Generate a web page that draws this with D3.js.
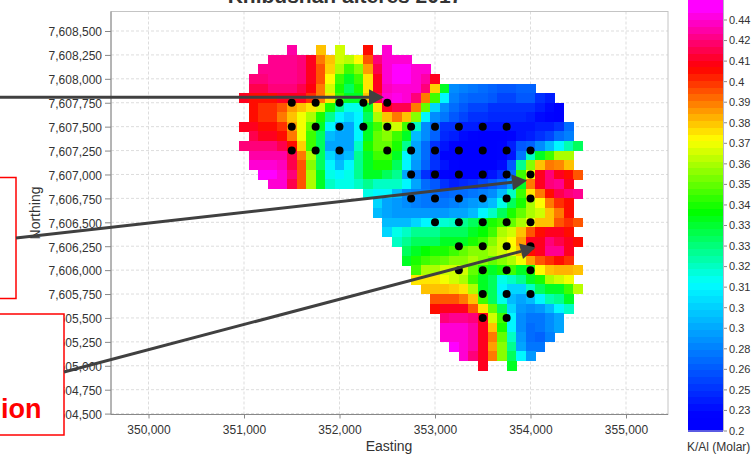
<!DOCTYPE html>
<html><head><meta charset="utf-8">
<script src="https://cdn.jsdelivr.net/npm/d3@7"></script>
<style>
html,body{margin:0;padding:0;background:#fff;overflow:hidden}
text{font-family:"Liberation Sans",Arial,sans-serif}
</style></head><body>
<svg id="c" width="756" height="454"></svg>
<script>
const eastTicks=[350000,351000,352000,353000,354000,355000];
const northTicks=[7604500,7604750,7605000,7605250,7605500,7605750,7606000,7606250,7606500,7606750,7607000,7607250,7607500,7607750,7608000,7608250,7608500];
const legendLabels=["0.44","0.42","0.41","0.4","0.39","0.38","0.37","0.36","0.35","0.34","0.33","0.33","0.32","0.31","0.3","0.3","0.28","0.26","0.25","0.23","0.2"];
const legendValues=[.44,.42,.41,.40,.39,.38,.37,.36,.35,.34,.334,.327,.32,.31,.304,.296,.28,.26,.25,.23,.2];
const gridEastStart=351000, gridNorthStart=7608300, gridStep=100;
const rowFirstCell=[5,3,2,1,1,0,1,1,0,1,0,1,1,2,3,13,14,14,15,15,16,17,17,18,18,19,20,20,21,21,21,22,23,25];
const kAlRows=[
[430,null,null,380,null,365,null,null,405,null,440],
[425,425,425,420,410,390,380,365,362,372,395,420,440,440,440],
[425,425,425,425,420,410,395,378,360,345,355,385,415,440,450,450,440,440],
[420,420,425,425,425,420,410,395,372,345,335,345,375,410,440,450,450,440,430,410],
[415,415,420,420,420,415,408,390,365,340,330,340,375,410,435,440,440,440,420,378,335,285,280,275,270,265,260,260,265,265],
[410,405,405,405,410,410,410,400,390,375,345,335,335,380,415,440,445,440,420,390,345,310,280,270,265,265,260,255,255,260,260,250,240],
[405,400,400,395,385,380,375,365,340,325,315,315,335,375,410,415,415,390,350,305,285,270,260,255,255,250,250,250,250,250,240,230,220],
[405,400,400,390,380,370,360,340,325,310,305,310,330,360,380,390,380,355,310,285,275,260,255,250,250,245,245,245,245,240,230,225,220],
[410,410,405,405,400,385,370,350,335,310,300,295,310,335,345,360,365,345,320,285,270,250,250,240,240,235,235,235,235,235,235,240,240,250,270],
[415,410,410,405,390,370,345,330,300,295,295,310,335,350,355,345,335,300,285,265,245,240,230,225,220,220,220,225,235,240,250,255,270,280],
[420,420,420,420,415,405,378,345,330,295,295,295,320,340,350,350,340,325,295,270,250,235,225,215,210,210,215,225,240,260,265,285,300,310,322,330],
[430,430,430,430,415,390,360,330,305,295,300,325,335,345,345,335,310,295,270,250,225,225,220,215,215,220,225,235,275,320,335,345,360,360],
[440,440,440,435,415,395,355,330,310,300,310,325,335,340,340,330,310,290,265,250,235,225,215,210,210,215,230,260,325,355,380,390,388,380],
[450,450,440,420,395,360,335,315,310,315,325,335,335,330,325,295,275,250,230,225,220,215,215,225,235,250,270,345,370,410,420,410,405,395],
[440,440,415,395,360,335,320,315,315,320,325,320,320,320,310,295,270,260,250,240,245,250,255,260,270,290,335,390,410,420,425,410],
[315,310,310,300,285,280,275,270,265,270,270,275,280,285,300,320,345,375,390,405,415,420,425],
[305,295,290,285,280,275,275,275,280,285,290,295,300,315,330,340,360,372,390,400,405],
[300,295,290,290,290,290,290,290,295,295,300,310,320,330,340,350,360,365,380,390,405],
[300,300,300,305,310,315,318,320,325,330,335,340,345,350,360,370,380,380,395,400,395],
[305,315,320,325,325,325,330,330,330,335,338,345,360,365,380,395,405,410,410,405],
[320,325,330,330,330,335,335,335,340,345,355,365,372,385,410,410,420,415,410,405],
[330,335,338,340,340,345,350,355,355,360,365,370,380,405,410,425,425,410],
[335,340,345,348,350,355,355,360,355,350,355,360,370,385,395,400,405,400],
[345,360,360,365,365,365,350,340,335,340,345,335,340,372,380,382,382,380],
[375,375,375,370,365,360,345,335,330,315,320,325,335,340,360,365,370],
[380,380,380,378,375,360,335,330,310,305,305,320,330,335,335,345,362],
[395,395,395,390,380,345,330,315,300,295,300,310,322,325,335],
[405,410,410,410,395,375,350,330,305,290,285,290,300,310,320],
[420,425,425,420,410,365,345,310,285,275,275,285,295],
[440,440,440,430,410,380,340,310,285,270,275,285,295],
[440,440,440,430,410,390,350,320,290,270,265,280],
[450,440,430,410,385,355,325,295,275,275],
[440,420,410,390,355,330,310,290],
[410,null,null,335]
];
const sampleNorth=[7607750,7607500,7607250,7607000,7606750,7606500,7606250,7606000,7605750,7605500];
const sampleEast=[
[351500,351750,352000,352250,352500],
[351500,351750,352000,352250,352500,352750,353000,353250,353500,353750],
[351500,351750,352000,352500,352750,353000,353250,353500,353750,354000],
[352750,353000,353250,353500,353750,354000],
[352750,353000,353250,353500,353750,354000],
[353000,353250,353500,353750,354000],
[353250,353500,353750,354000],
[353250,353500,353750,354000],
[353500,353750,354000],
[353500,353750]
];

const svg=d3.select("#c");
const x=d3.scaleLinear().domain([350000,355000]).range([148.5,626]);
const y=d3.scaleLinear().domain([7604500,7608500]).range([413.6,31]);
const L=111,R=668,T=11.5,B=414.5;
const fmt=d3.format(",");

// title (cropped by the top of the picture, as in the reference)
svg.append("text").attr("x",345).attr("y",2.5).attr("text-anchor","middle")
  .attr("font-size",21).attr("font-weight","bold").attr("fill","#333").text("Khibushan alteres 2017");

// grid
const g=svg.append("g");
g.selectAll(".gx").data(eastTicks).join("line").attr("x1",d=>x(d)).attr("x2",d=>x(d)).attr("y1",T).attr("y2",B)
 .attr("stroke","#ddd").attr("stroke-dasharray","3,2");
g.selectAll(".gy").data(northTicks).join("line").attr("y1",d=>y(d)).attr("y2",d=>y(d)).attr("x1",L).attr("x2",R)
 .attr("stroke","#ddd").attr("stroke-dasharray","3,2");

// frame
svg.append("rect").attr("x",L).attr("y",T).attr("width",R-L).attr("height",B-T).attr("fill","none").attr("stroke","#c4c4c4");

// colour scale
const barBottom=431;
const barPos=d3.scaleLinear().domain(legendValues.slice().reverse().concat([.46]))
  .range(legendValues.map((_,i)=>431-i*20.55).concat([0]));
const colorStops=d3.scaleLinear().domain([10,68,140,212,283,415]).clamp(true)
  .range(["#ff00ff","#ff0000","#ffff00","#00ff00","#00ffff","#0000ff"]).interpolate(d3.interpolateRgb);
const cellColor=v=>colorStops(barPos(v));

// cells
const cells=[];
kAlRows.forEach((row,r)=>row.forEach((v,i)=>{ if(v!=null) cells.push({e:gridEastStart+(rowFirstCell[r]+i)*gridStep,n:gridNorthStart-r*gridStep,v:v/1000}); }));
svg.append("g").attr("shape-rendering","crispEdges").selectAll("rect").data(cells).join("rect")
 .attr("x",d=>x(d.e-50)).attr("y",d=>y(d.n+50))
 .attr("width",d=>x(d.e+50)-x(d.e-50)+.4).attr("height",d=>y(d.n-50)-y(d.n+50)+.4)
 .attr("fill",d=>cellColor(d.v));

// sample points
const pts=sampleNorth.flatMap((n,i)=>sampleEast[i].map(e=>({e,n})));
svg.append("g").selectAll("circle").data(pts).join("circle")
 .attr("cx",d=>x(d.e)).attr("cy",d=>y(d.n)).attr("r",4).attr("fill","#000");

// axes
const axisCol="#888";
const ax=svg.append("g").attr("transform",`translate(0,${B})`).call(d3.axisBottom(x).tickValues(eastTicks).tickFormat(fmt).tickSize(4).tickPadding(7));
const ay=svg.append("g").attr("transform",`translate(${L},0)`).call(d3.axisLeft(y).tickValues(northTicks).tickFormat(fmt).tickSize(6).tickPadding(3));
[ax,ay].forEach(a=>{a.selectAll("path").attr("stroke",axisCol).attr("d",a===ax?`M${L},0H${R}`:`M0,${T}V${B}`);
 a.selectAll("line").attr("stroke",axisCol);
 a.selectAll("text").attr("fill","#333").attr("font-size",12).attr("font-family",'"Liberation Sans",Arial,sans-serif');});
ay.selectAll("text").attr("dy","0.4em");
svg.append("text").attr("x",389).attr("y",451).attr("text-anchor","middle").attr("font-size",14).attr("fill","#333").text("Easting");
svg.append("text").attr("transform","translate(40,213) rotate(-90)").attr("text-anchor","middle").attr("font-size",14).attr("fill","#333").text("Northing");

// colour bar
const bands=d3.range(0,64);
const bandH=barBottom/64;
svg.append("g").attr("shape-rendering","crispEdges").selectAll("rect").data(bands).join("rect")
 .attr("x",688).attr("width",35).attr("y",d=>d*bandH).attr("height",bandH+.5).attr("fill",d=>colorStops((d+.5)*bandH));
svg.append("path").attr("d",`M723.5,0V${barBottom}H688`).attr("fill","none").attr("stroke","#b4b4c8");
const ly=d3.scalePoint().domain(d3.range(legendLabels.length)).range([20,431]);
const lg=svg.append("g").selectAll("g").data(legendLabels).join("g").attr("transform",(d,i)=>`translate(724,${ly(i)})`);
lg.append("line").attr("x2",3).attr("stroke","#888");
lg.append("text").attr("x",5).attr("dy","0.35em").attr("font-size",11).attr("fill","#333").text(d=>d);
svg.append("text").attr("x",687).attr("y",451).attr("font-size",12).attr("fill","#333").text("K/Al (Molar)");

// annotation boxes
const boxStyle=s=>s.attr("fill","#fff").attr("stroke","#ff0000").attr("stroke-width",1.5);
svg.append("rect").attr("x",-5).attr("y",177.5).attr("width",21).attr("height",121).call(boxStyle);
svg.append("rect").attr("x",-5).attr("y",314).attr("width",69).attr("height",121).call(boxStyle);
svg.append("text").attr("x",41.5).attr("y",418).attr("text-anchor","end").attr("font-size",27).attr("font-weight","bold").attr("fill","#ff0000").text("ion");

// arrows
const arrows=[[-5,97.3,384,97.3],[16,238,527,180.5],[64,372,535.5,247.5]];
const ag=svg.append("g");
arrows.forEach(([x1,y1,x2,y2])=>{
  const a=Math.atan2(y2-y1,x2-x1),l=15,w=8;
  const bx=x2-l*Math.cos(a),by=y2-l*Math.sin(a);
  ag.append("line").attr("x1",x1).attr("y1",y1).attr("x2",bx).attr("y2",by).attr("stroke","#404040").attr("stroke-width",3);
  ag.append("path").attr("fill","#404040").attr("d",d3.line()([[x2,y2],[bx-w*Math.sin(a),by+w*Math.cos(a)],[bx+w*Math.sin(a),by-w*Math.cos(a)]])+"Z");
});
</script>
</body></html>
